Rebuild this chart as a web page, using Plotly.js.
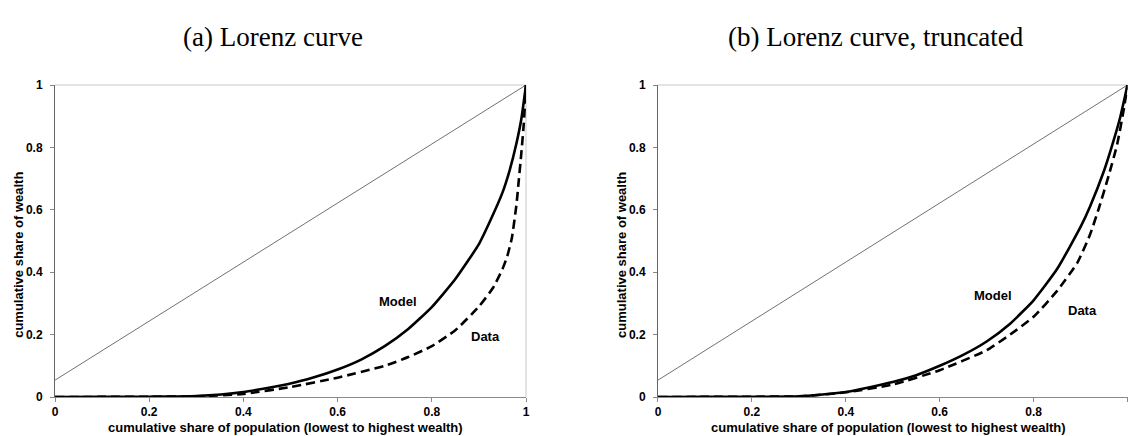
<!DOCTYPE html>
<html>
<head>
<meta charset="utf-8">
<script src="https://cdn.plot.ly/plotly-3.0.1.min.js"></script>
<style>html,body{margin:0;padding:0;background:#fff;}#chart{width:1128px;height:436px;}</style>
</head>
<body>
<div id="chart"></div>
<script>
// ---- Panel (a): Lorenz curve ----
const popA = [0, 0.1, 0.2, 0.3, 0.4, 0.5, 0.55, 0.6, 0.65, 0.7, 0.75, 0.8, 0.85, 0.9, 0.925, 0.95, 0.965, 0.98, 0.99, 1.0];
const modelA = [0, 0.0005, 0.001, 0.003, 0.016, 0.043, 0.063, 0.088, 0.12, 0.163, 0.218, 0.288, 0.378, 0.49, 0.568, 0.655, 0.725, 0.815, 0.89, 1.0];
const popDataA = [0, 0.1, 0.2, 0.3, 0.4, 0.5, 0.6, 0.7, 0.75, 0.8, 0.85, 0.9, 0.93, 0.95, 0.96, 0.97, 0.98, 0.985, 0.99, 0.995, 1.0];
const dataA = [0, 0.0003, 0.0008, 0.002, 0.01, 0.032, 0.062, 0.1, 0.128, 0.163, 0.214, 0.29, 0.35, 0.41, 0.45, 0.51, 0.62, 0.70, 0.78, 0.87, 1.0];

// ---- Panel (b): Lorenz curve, truncated ----
const popB = [0, 0.1, 0.2, 0.3, 0.4, 0.5, 0.55, 0.6, 0.65, 0.7, 0.75, 0.8, 0.85, 0.9, 0.92, 0.95, 0.97, 0.985, 1.0];
const modelB = [0, 0.0005, 0.001, 0.002, 0.016, 0.048, 0.07, 0.10, 0.135, 0.178, 0.235, 0.31, 0.41, 0.545, 0.61, 0.725, 0.82, 0.9, 1.0];
const popDataB = [0, 0.1, 0.2, 0.3, 0.4, 0.5, 0.6, 0.7, 0.75, 0.8, 0.85, 0.893, 0.92, 0.939, 0.96, 0.978, 0.993, 1.0];
const dataB = [0, 0.0004, 0.001, 0.002, 0.015, 0.04, 0.086, 0.15, 0.20, 0.257, 0.34, 0.43, 0.52, 0.605, 0.71, 0.81, 0.93, 1.0];

// reference (equality-type) line drawn in both panels
const refX = [0, 1];
const refY = [0.054, 1];

const tickVals = [0, 0.2, 0.4, 0.6, 0.8, 1];
const tickText = ['0', '0.2', '0.4', '0.6', '0.8', '1'];

const panelTitles = ['(a) Lorenz curve', '(b) Lorenz curve, truncated'];
const xTitle = 'cumulative share of population (lowest to highest wealth)';
const yTitle = 'cumulative share of wealth';
const seriesLabels = ['Model', 'Data'];
const labelPosA = {model: [0.728, 0.305], data: [0.915, 0.195]};
const labelPosB = {model: [0.714, 0.324], data: [0.904, 0.276]};

const sansBold = {family: 'Liberation Sans, Arial, sans-serif', size: 12, color: '#000', weight: 'bold'};
const titleBold = {family: 'Liberation Sans, Arial, sans-serif', size: 13, color: '#000', weight: 'bold'};

function traces(xa, ya, px, m, pdx, d) {
  return [
    {x: refX, y: refY, xaxis: xa, yaxis: ya, type: 'scatter', mode: 'lines',
     line: {color: '#333', width: 0.7}, hoverinfo: 'skip', showlegend: false},
    {x: px, y: m, xaxis: xa, yaxis: ya, type: 'scatter', mode: 'lines', name: 'Model',
     line: {color: '#000', width: 2.6, shape: 'spline', smoothing: 0.5}, showlegend: false},
    {x: pdx, y: d, xaxis: xa, yaxis: ya, type: 'scatter', mode: 'lines', name: 'Data',
     line: {color: '#000', width: 2.6, dash: '9px,5px', shape: 'spline', smoothing: 0.5}, showlegend: false}
  ];
}

const data = [].concat(
  traces('x', 'y', popA, modelA, popDataA, dataA),
  traces('x2', 'y2', popB, modelB, popDataB, dataB)
);

function xax(domain, anchor) {
  return {domain: domain, anchor: anchor, range: [0, 1], tickvals: tickVals, ticktext: tickText,
    showgrid: false, zeroline: false, showline: true, linecolor: '#8a8a8a', linewidth: 1,
    ticks: 'outside', ticklen: 4, tickcolor: '#8a8a8a', tickfont: sansBold, ticklabelstandoff: 0, fixedrange: true};
}
function yax(anchor) {
  return {domain: [0, 1], anchor: anchor, range: [0, 1], tickvals: tickVals, ticktext: tickText,
    showgrid: false, zeroline: false, showline: true, linecolor: '#666', linewidth: 1,
    ticks: 'outside', ticklen: 4, tickcolor: '#888', tickfont: sansBold, ticklabelstandoff: 5, fixedrange: true};
}

const annotations = [];
const serif = {family: 'Liberation Serif, Times New Roman, serif', size: 27, color: '#000'};
annotations.push({text: panelTitles[0], xref: 'paper', yref: 'paper', x: 0.242, y: 1.154, showarrow: false, font: serif, xanchor: 'center', yanchor: 'middle'});
annotations.push({text: panelTitles[1], xref: 'paper', yref: 'paper', x: 0.7766, y: 1.154, showarrow: false, font: serif, xanchor: 'center', yanchor: 'middle'});
[['x', 'y'], ['x2', 'y2']].forEach(function (p) {
  annotations.push({text: xTitle, xref: p[0] + ' domain', yref: p[1] + ' domain', x: 0.49, y: -0.097,
    showarrow: false, font: titleBold, xanchor: 'center', yanchor: 'middle'});
  annotations.push({text: yTitle, xref: p[0] + ' domain', yref: p[1] + ' domain', x: -0.079, y: 0.455,
    showarrow: false, font: titleBold, textangle: -90, xanchor: 'center', yanchor: 'middle'});
});
[[labelPosA, 'x', 'y'], [labelPosB, 'x2', 'y2']].forEach(function (p) {
  annotations.push({text: seriesLabels[0], xref: p[1], yref: p[2], x: p[0].model[0], y: p[0].model[1], showarrow: false, font: titleBold});
  annotations.push({text: seriesLabels[1], xref: p[1], yref: p[2], x: p[0].data[0], y: p[0].data[1], showarrow: false, font: titleBold});
});

const shapes = [
  {type: 'line', xref: 'x domain', yref: 'y domain', x0: 0, x1: 1, y0: 1, y1: 1, line: {color: '#c8c8c8', width: 1}, layer: 'below'},
  {type: 'line', xref: 'x domain', yref: 'y domain', x0: 1, x1: 1, y0: 0, y1: 1, line: {color: '#c8c8c8', width: 1}, layer: 'below'},
  {type: 'line', xref: 'x2 domain', yref: 'y2 domain', x0: 0, x1: 1, y0: 1, y1: 1, line: {color: '#c8c8c8', width: 1}, layer: 'below'}
];

const layout = {
  width: 1128, height: 436,
  margin: {l: 0, r: 0, t: 85, b: 39},
  paper_bgcolor: '#fff', plot_bgcolor: '#fff',
  showlegend: false,
  xaxis: xax([0.04876, 0.46631], 'y'),
  yaxis: yax('x'),
  xaxis2: xax([0.58333, 0.99956], 'y2'),
  yaxis2: yax('x2'),
  annotations: annotations,
  shapes: shapes
};

Plotly.newPlot('chart', data, layout, {displayModeBar: false, staticPlot: true});
</script>
</body>
</html>
